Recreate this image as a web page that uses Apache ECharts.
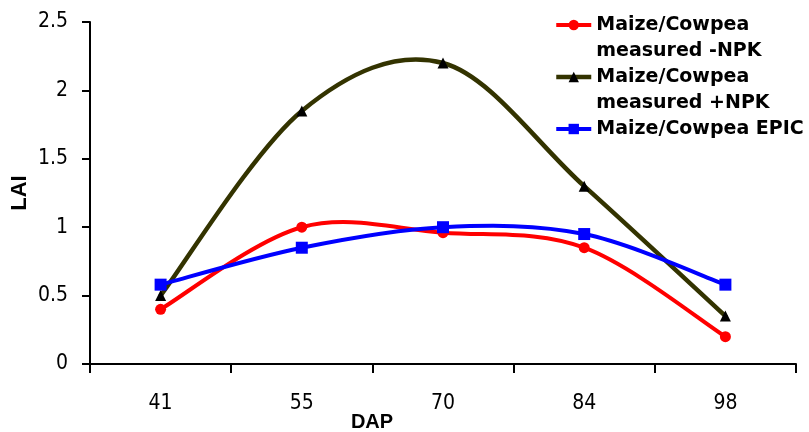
<!DOCTYPE html>
<html><head><meta charset="utf-8">
<script src="https://cdn.jsdelivr.net/npm/echarts@6/dist/echarts.min.js"></script>
<style>html,body{margin:0;padding:0;background:#fff}#c{width:809px;height:432px}</style>
</head><body><div id="c"></div>
<script>
var categories = ['41', '55', '70', '84', '98'];
var npkMinus = [0.4, 1.0, 0.96, 0.85, 0.2];
var npkPlus = [0.5, 1.85, 2.2, 1.3, 0.35];
var epic = [0.58, 0.85, 1.0, 0.95, 0.58];
var seriesNames = ['Maize/Cowpea measured -NPK', 'Maize/Cowpea measured +NPK', 'Maize/Cowpea EPIC'];
// leading/trailing blank lines keep the legend icon on the first text line
var legendLabels = ['\nMaize/Cowpea\nmeasured -NPK', '\nMaize/Cowpea\nmeasured +NPK', '\nMaize/Cowpea EPIC\n'];

var chart = echarts.init(document.getElementById('c'), null, {renderer: 'canvas'});
var narrow = "'DejaVu Sans Condensed', 'Liberation Sans Narrow', sans-serif";
var legendFont = "'DejaVu Sans', sans-serif";

// Catmull-Rom style smoothed curve (like the spreadsheet's smoothed line), positions from api.coord
function curveSeries(name, values, color, width) {
  return {
    name: name + ' (curve)', type: 'custom', coordinateSystem: 'cartesian2d',
    data: values.map(function (v, i) { return [i, v]; }),
    encode: {x: 0, y: 1}, silent: true,
    renderItem: function (params, api) {
      if (params.dataIndex !== 0) return null;
      var p = values.map(function (v, i) { return api.coord([i, v]); });
      var n = p.length;
      var d = 'M' + p[0][0] + ' ' + p[0][1];
      for (var i = 0; i < n - 1; i++) {
        var p0 = p[Math.max(i - 1, 0)], p1 = p[i], p2 = p[i + 1], p3 = p[Math.min(i + 2, n - 1)];
        var c1x = p1[0] + (p2[0] - p0[0]) / 6, c1y = p1[1] + (p2[1] - p0[1]) / 6;
        var c2x = p2[0] - (p3[0] - p1[0]) / 6, c2y = p2[1] - (p3[1] - p1[1]) / 6;
        d += ' C' + c1x + ' ' + c1y + ' ' + c2x + ' ' + c2y + ' ' + p2[0] + ' ' + p2[1];
      }
      return {type: 'path', shape: {pathData: d}, style: {fill: 'none', stroke: color, lineWidth: width, lineJoin: 'round', lineCap: 'round'}};
    }
  };
}
function markerSeries(name, values, symbol, size, color) {
  return {name: name, type: 'line', data: values, symbol: symbol, symbolSize: size,
    lineStyle: {opacity: 0}, itemStyle: {color: color}};
}

chart.setOption({
  animation: false,
  backgroundColor: '#ffffff',
  grid: {left: 90, right: 13, top: 22, bottom: 68, outerBoundsMode: 'none', containLabel: false},
  legend: {
    orient: 'vertical', left: 554, top: -14, itemGap: -26, padding: 0,
    itemWidth: 35, itemHeight: 13,
    textStyle: {fontFamily: legendFont, fontWeight: 'bold', fontSize: 19, lineHeight: 26, color: '#000'},
    formatter: function (n) { return legendLabels[seriesNames.indexOf(n)]; },
    data: [
      {name: seriesNames[0], lineStyle: {color: '#ff0000', width: 4, opacity: 1}},
      {name: seriesNames[1], lineStyle: {color: '#333300', width: 4.5, opacity: 1}},
      {name: seriesNames[2], lineStyle: {color: '#0000ff', width: 4, opacity: 1}}
    ]
  },
  xAxis: {
    type: 'category', data: categories, boundaryGap: true,
    name: 'DAP', nameLocation: 'middle', nameGap: 48, nameMoveOverlap: false,
    nameTextStyle: {fontFamily: "'Liberation Sans', Arial, sans-serif", fontWeight: 'bold', fontSize: 20, color: '#000', padding: [0, 142, 0, 0]},
    axisLine: {lineStyle: {color: '#000', width: 2}},
    axisTick: {show: true, length: 9, lineStyle: {color: '#000', width: 2}, alignWithLabel: false},
    axisLabel: {margin: 29, fontFamily: narrow, fontSize: 21, color: '#000'},
    splitLine: {show: false}
  },
  yAxis: {
    type: 'value', min: 0, max: 2.5, interval: 0.5,
    name: 'LAI', nameLocation: 'middle', nameGap: 59, nameRotate: 90, nameMoveOverlap: false,
    nameTextStyle: {fontFamily: "'Liberation Sans', Arial, sans-serif", fontWeight: 'bold', fontSize: 22, color: '#000'},
    axisLine: {show: true, lineStyle: {color: '#000', width: 2}},
    axisTick: {show: true, length: 8, lineStyle: {color: '#000', width: 2}},
    axisLabel: {margin: 22, fontFamily: narrow, fontSize: 21, color: '#000'},
    splitLine: {show: false}
  },
  series: [
    curveSeries(seriesNames[0], npkMinus, '#ff0000', 4),
    markerSeries(seriesNames[0], npkMinus, 'circle', 11, '#ff0000'),
    curveSeries(seriesNames[1], npkPlus, '#333300', 4.5),
    markerSeries(seriesNames[1], npkPlus, 'triangle', 11, '#000000'),
    curveSeries(seriesNames[2], epic, '#0000ff', 4),
    markerSeries(seriesNames[2], epic, 'rect', 12, '#0000ff')
  ]
});
</script></body></html>
